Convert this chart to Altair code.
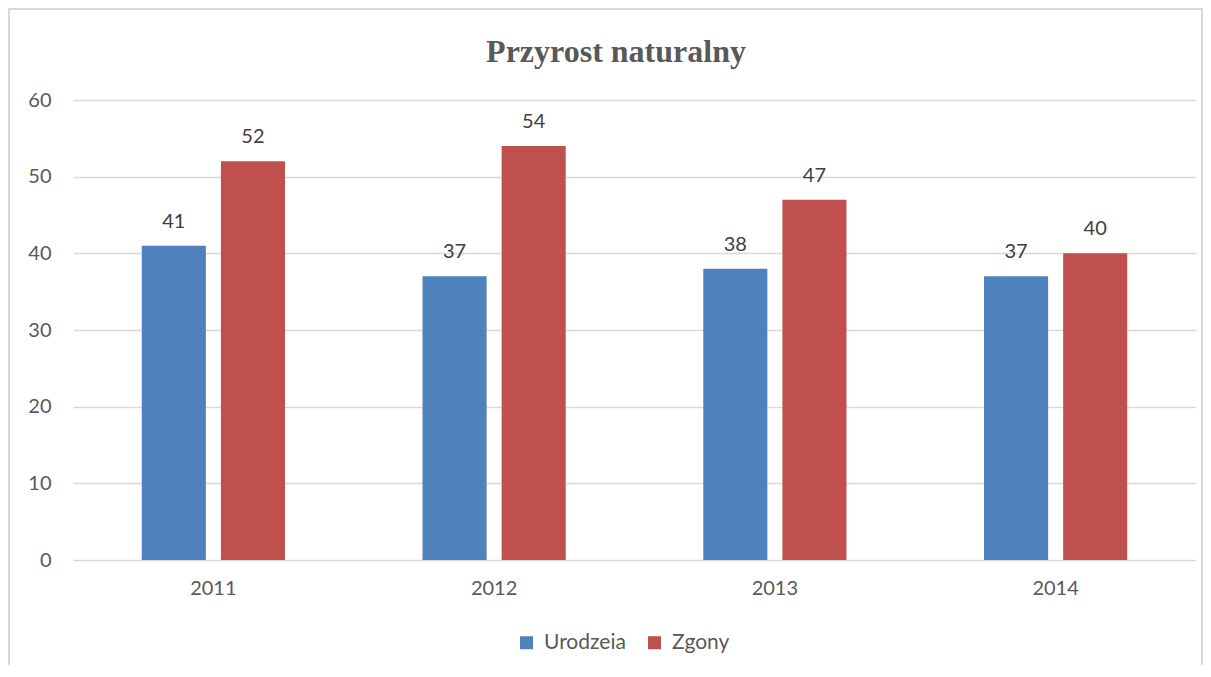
import altair as alt
import pandas as pd

years = ["2011", "2012", "2013", "2014"]
urodzenia = [41, 37, 38, 37]
zgony = [52, 54, 47, 40]
series = ["Urodzeia", "Zgony"]
colors = ["#4F81BD", "#C0504D"]
title_text = ["Przyrost naturalny"]

rows = []
for i, y in enumerate(years):
    rows.append({"rok": y, "seria": series[0], "wartosc": urodzenia[i]})
    rows.append({"rok": y, "seria": series[1], "wartosc": zgony[i]})
df = pd.DataFrame(rows)

font = "Lato"
label_color = "#595959"

x = alt.X(
    "rok:N", sort=years, title=None,
    scale=alt.Scale(paddingInner=0.49, paddingOuter=0.245),
    axis=alt.Axis(labelAngle=0, labelFontSize=20, labelColor=label_color, labelFont=font,
                  labelPadding=18, ticks=False, domain=False),
)
xo = alt.XOffset("seria:N", sort=series, scale=alt.Scale(paddingInner=0.19, paddingOuter=0))
y = alt.Y(
    "wartosc:Q", title=None,
    scale=alt.Scale(domain=[0, 60]),
    axis=alt.Axis(values=[0, 10, 20, 30, 40, 50, 60], labelFontSize=20, labelColor=label_color,
                  labelFont=font, labelPadding=22, ticks=False, domain=False,
                  gridColor="#D9D9D9", gridWidth=1.3),
)

bars = alt.Chart(df).mark_bar().encode(
    x=x, xOffset=xo, y=y,
    color=alt.Color(
        "seria:N", sort=series,
        scale=alt.Scale(domain=series, range=colors),
        legend=alt.Legend(title=None, orient="none", legendX=443, legendY=532, direction="horizontal",
                          symbolType="square", symbolSize=169, symbolStrokeWidth=0,
                          labelFontSize=21, labelFont=font, labelColor=label_color,
                          labelOffset=7, columnPadding=18),
    ),
)

labels = alt.Chart(df).mark_text(
    baseline="alphabetic", dy=-18, fontSize=20, font=font, color="#404040"
).encode(x=x, xOffset=xo, y=y, text=alt.Text("wartosc:Q"))

frame = alt.Chart(pd.DataFrame({"a": [0]})).mark_rect(
    fillOpacity=0, stroke="#D9D9D9", strokeWidth=2, clip=False
).encode(x=alt.value(-64), x2=alt.value(1129), y=alt.value(-91), y2=alt.value(900))

title = alt.Chart(pd.DataFrame({"t": title_text})).mark_text(
    font="Liberation Serif", fontSize=32, fontWeight="bold", color=label_color,
    align="center", baseline="alphabetic", clip=False
).encode(text="t:N", x=alt.value(543), y=alt.value(-38))

chart = alt.layer(frame, bars, labels, title).properties(
    width=1123, height=460,
    autosize=alt.AutoSizeParams(type="none"),
    padding={"left": 65, "top": 92, "right": 7, "bottom": 105},
).configure_view(stroke=None)

chart.save("out.html", embed_options={"renderer": "svg", "actions": False})
